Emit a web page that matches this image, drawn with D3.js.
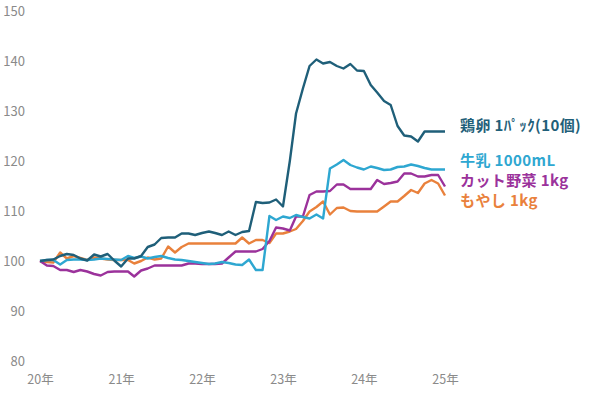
<!DOCTYPE html>
<html>
<head>
<meta charset="utf-8">
<script src="https://cdn.jsdelivr.net/npm/d3@7"></script>
<style>
  body { margin: 0; background: #fff; }
  text { font-family: "Noto Sans CJK JP", "Noto Sans", sans-serif; }
</style>
</head>
<body>
<div id="chart"></div>
<script>
// monthly index values, 2020-01 .. 2025-01 (2020-01 = 100)
const egg = [100, 100.2, 100.3, 101, 101.4, 101.2, 100.5, 100.1, 101.3, 100.9, 101.4, 100.1,
  98.9, 100.5, 100.5, 101, 102.8, 103.3, 104.6, 104.7, 104.7, 105.5, 105.5, 105.2,
  105.6, 105.9, 105.6, 105.2, 105.9, 105.2, 105.8, 106, 111.8, 111.6, 111.7, 112.3,
  110.9, 120, 129.5, 134.5, 139, 140.3, 139.5, 139.8, 139, 138.5, 139.4, 138.1,
  138, 135.2, 133.7, 132, 131.2, 127, 125.1, 124.9, 123.9, 125.9, 125.9, 125.9,
  125.9];
const milk = [100, 100.2, 100.2, 99.3, 100.2, 100.3, 100.3, 100.2, 100.3, 100.5, 100.4, 100.3,
  100.2, 101, 100.6, 100.9, 100.5, 100.8, 101, 100.6, 100.3, 100.2, 100, 99.8,
  99.6, 99.4, 99.5, 99.8, 99.6, 99.3, 99.2, 100.3, 98.2, 98.2, 109, 108.2,
  108.9, 108.6, 109.2, 108.8, 108.5, 109.3, 108.5, 118.5, 119.3, 120.2, 119.2, 118.7,
  118.3, 118.9, 118.6, 118.2, 118.3, 118.8, 118.9, 119.3, 119, 118.6, 118.3, 118.3,
  118.3];
const cutVeg = [100, 99.1, 99, 98.2, 98.2, 97.8, 98.2, 97.9, 97.4, 97.1, 97.8, 97.9,
  97.9, 97.9, 96.9, 98.1, 98.5, 99.1, 99.1, 99.1, 99.1, 99.1, 99.5, 99.5,
  99.4, 99.4, 99.4, 99.5, 100.7, 101.9, 101.9, 101.9, 101.9, 102.4, 104, 106.7,
  106.5, 106.1, 108.9, 108.9, 113.2, 113.9, 113.9, 114, 115.3, 115.3, 114.4, 114.4,
  114.4, 114.4, 116.2, 115.4, 115.6, 115.9, 117.5, 117.5, 116.9, 116.9, 117.2, 117.2,
  114.9];
const sprouts = [100, 99.8, 99.7, 101.7, 100.5, 101, 100.6, 100.2, 100.7, 100.5, 100.3, 100.2,
  100.2, 100.2, 99.5, 100, 100.7, 100.3, 100.5, 102.9, 101.7, 102.8, 103.5, 103.5,
  103.5, 103.5, 103.5, 103.5, 103.5, 103.5, 104.7, 103.5, 104.2, 104.2, 103.6, 105.5,
  105.5, 105.9, 106.4, 108, 109.9, 110.8, 111.9, 109.3, 110.6, 110.7, 110, 109.9,
  109.9, 109.9, 109.9, 110.9, 111.9, 111.9, 113, 114.2, 113.6, 115.5, 116.2, 115.5,
  113.1];

const seriesNames = ["鶏卵 1ﾊﾟｯｸ(10個)", "牛乳 1000mL", "カット野菜 1kg", "もやし 1kg"];
const yTicks = [80, 90, 100, 110, 120, 130, 140, 150];
const xTickYears = [2020, 2021, 2022, 2023, 2024, 2025];

const width = 600, height = 395;

const svg = d3.select("#chart").append("svg")
    .attr("width", width)
    .attr("height", height);

const months = d3.range(egg.length).map(i => new Date(2020, i, 1));

const x = d3.scaleTime()
    .domain([new Date(2020, 0, 1), new Date(2025, 0, 1)])
    .range([40, 445]);

const y = d3.scaleLinear()
    .domain([80, 150])
    .range([361, 11]);

// y axis (labels only)
svg.append("g")
    .attr("transform", "translate(25,0)")
    .call(d3.axisLeft(y).tickValues(yTicks).tickSize(0).tickPadding(0))
    .call(g => g.select(".domain").remove())
    .selectAll("text")
        .attr("fill", "#8a8a8a")
        .style("font-size", "13px");

// x axis
svg.append("g")
    .attr("transform", "translate(0,372)")
    .call(d3.axisBottom(x)
        .tickValues(xTickYears.map(yr => new Date(yr, 0, 1)))
        .tickFormat(d => String(d.getFullYear()).slice(2) + "年")
        .tickSize(0).tickPadding(3))
    .call(g => g.select(".domain").remove())
    .selectAll("text")
        .attr("fill", "#8a8a8a")
        .style("font-size", "12.5px");

const series = [
    {name: seriesNames[0], values: egg, color: "#1f5f79", labelY: 126},
    {name: seriesNames[1], values: milk, color: "#2ea7d1", labelY: 161},
    {name: seriesNames[2], values: cutVeg, color: "#9b329b", labelY: 181},
    {name: seriesNames[3], values: sprouts, color: "#e9813c", labelY: 201}
];

const line = d3.line()
    .x((d, i) => x(months[i]))
    .y(d => y(d));

// draw back to front so egg sits on top
[3, 2, 1, 0].forEach(k => {
    const s = series[k];
    svg.append("path")
        .datum(s.values)
        .attr("fill", "none")
        .attr("stroke", s.color)
        .attr("stroke-width", 2.4)
        .attr("stroke-linejoin", "round")
        .attr("d", line);
});

// labels at right
svg.selectAll(".series-label")
    .data(series)
    .enter().append("text")
        .attr("x", 460)
        .attr("y", d => d.labelY)
        .attr("dy", "0.35em")
        .attr("fill", d => d.color)
        .style("font-size", "15px")
        .style("letter-spacing", "0.4px")
        .style("font-weight", "bold")
        .text(d => d.name);
</script>
</body>
</html>
